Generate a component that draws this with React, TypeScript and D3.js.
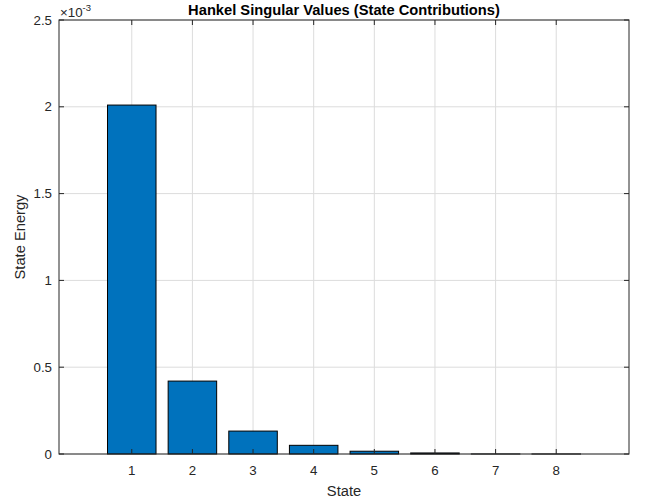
import React from 'react';
import * as d3 from 'd3';

const states = [1, 2, 3, 4, 5, 6, 7, 8];
const energy = [2.01e-3, 0.42e-3, 0.132e-3, 0.05e-3, 0.016e-3, 0.006e-3, 0.0002e-3, 0.0001e-3];
const xTicks = [1, 2, 3, 4, 5, 6, 7, 8];
const yTicks = [0, 0.5e-3, 1e-3, 1.5e-3, 2e-3, 2.5e-3];

const App = () => {
    const width = 645;
    const height = 501;
    const margin = { top: 20, right: 16, bottom: 47, left: 59 };
    const x0 = margin.left;
    const x1 = width - margin.right;
    const y0 = height - margin.bottom;
    const y1 = margin.top;

    const x = d3.scaleLinear().domain([-0.2, 9.2]).range([x0, x1]);
    const y = d3.scaleLinear().domain([0, 2.5e-3]).range([y0, y1]);
    const barW = x(0.8) - x(0);
    const axisColor = '#262626';
    const font = '"Liberation Sans", Arial, sans-serif';

    return (
        <svg width={width} height={height} style={{ position: 'absolute', left: 0, top: 0 }} fontFamily={font}>
            <rect x={0} y={0} width={width} height={height} fill="#fff" />
            {/* grid */}
            <g stroke="#dcdcdc" strokeWidth={1}>
                {xTicks.map(t => (
                    <line key={`gx${t}`} x1={x(t)} x2={x(t)} y1={y1} y2={y0} />
                ))}
                {yTicks.map(t => (
                    <line key={`gy${t}`} x1={x0} x2={x1} y1={y(t)} y2={y(t)} />
                ))}
            </g>
            {/* bars */}
            <g fill="#0072BD" stroke="#000" strokeWidth={1}>
                {states.map((s, i) => (
                    <rect
                        key={s}
                        x={x(s) - barW / 2}
                        y={y(energy[i])}
                        width={barW}
                        height={y0 - y(energy[i])}
                    />
                ))}
            </g>
            {/* box + ticks */}
            <g stroke={axisColor} strokeWidth={1} fill="none">
                <rect x={x0} y={y1} width={x1 - x0} height={y0 - y1} />
                {xTicks.map(t => (
                    <g key={`tx${t}`}>
                        <line x1={x(t)} x2={x(t)} y1={y0} y2={y0 - 5} />
                        <line x1={x(t)} x2={x(t)} y1={y1} y2={y1 + 5} />
                    </g>
                ))}
                {yTicks.map(t => (
                    <g key={`ty${t}`}>
                        <line x1={x0} x2={x0 + 5} y1={y(t)} y2={y(t)} />
                        <line x1={x1} x2={x1 - 5} y1={y(t)} y2={y(t)} />
                    </g>
                ))}
            </g>
            {/* tick labels */}
            <g fill={axisColor} fontSize={13.3}>
                {xTicks.map(t => (
                    <text key={`lx${t}`} x={x(t)} y={y0 + 21} textAnchor="middle">
                        {t}
                    </text>
                ))}
                {yTicks.map(t => (
                    <text key={`ly${t}`} x={x0 - 7} y={y(t)} dy="0.35em" textAnchor="end">
                        {d3.format('~g')(t * 1e3)}
                    </text>
                ))}
                <text x={x0 + 1} y={17}>
                    ×10
                    <tspan fontSize={9.5} dy={-6}>-3</tspan>
                </text>
            </g>
            {/* labels */}
            <text x={(x0 + x1) / 2} y={y0 + 42} textAnchor="middle" fontSize={14.7} fill={axisColor}>
                State
            </text>
            <text
                transform={`translate(${25},${(y0 + y1) / 2}) rotate(-90)`}
                textAnchor="middle"
                fontSize={14.7}
                fill={axisColor}
            >
                State Energy
            </text>
            <text x={(x0 + x1) / 2} y={15} textAnchor="middle" fontSize={14.7} fontWeight="bold" fill="#000">
                Hankel Singular Values (State Contributions)
            </text>
        </svg>
    );
};

export default App;
